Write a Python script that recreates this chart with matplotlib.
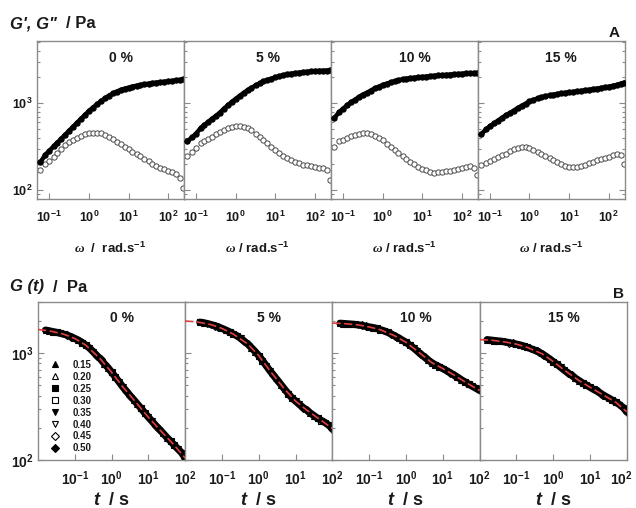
import matplotlib
matplotlib.use('Agg')
import matplotlib.pyplot as plt
import matplotlib.transforms as mtransforms
import numpy as np
from matplotlib.ticker import LogLocator, FixedLocator, NullFormatter, FuncFormatter

plt.rcParams['font.family'] = 'Liberation Sans'
plt.rcParams['font.weight'] = 'bold'
plt.rcParams['axes.labelweight'] = 'bold'
plt.rcParams['mathtext.fontset'] = 'custom'
plt.rcParams['mathtext.rm'] = 'Liberation Sans:bold'
plt.rcParams['mathtext.it'] = 'Liberation Serif:italic'
plt.rcParams['mathtext.bf'] = 'Liberation Sans:bold:italic'
plt.rcParams['mathtext.default'] = 'regular'

# ---- data ----
conc = ['0 %', '5 %', '10 %', '15 %']

# frequency sweep, rad/s
omega = [0.06, 0.08, 0.1, 0.13, 0.16, 0.2, 0.25, 0.32, 0.4, 0.5, 0.63, 0.8, 1.0, 1.26, 1.6,
         2.0, 2.5, 3.2, 4.0, 5.0, 6.3, 8.0, 10, 12.6, 16, 20, 25, 32, 40, 50, 63, 80, 100,
         126, 160, 200, 240]

gp_0 = [210, 256, 283, 320, 352, 390, 432, 484, 537, 595, 661, 735, 813, 891, 970, 1055,
        1135, 1220, 1295, 1360, 1420, 1470, 1510, 1555, 1590, 1620, 1650, 1680, 1705, 1725,
        1745, 1765, 1785, 1805, 1830, 1860, 1890]
gpp_0 = [170, 200, 217, 243, 267, 295, 327, 357, 382, 403, 423, 442, 452, 459, 457, 451,
         432, 410, 386, 361, 338, 316, 298, 275, 257, 244, 230, 215, 201, 190, 180, 173, 167,
         160, 153, 138, 105]

gp_5 = [363, 407, 447, 516, 560, 605, 660, 716, 780, 861, 944, 1035, 1122, 1216, 1318, 1413,
        1503, 1603, 1690, 1778, 1854, 1919, 1982, 2042, 2099, 2148, 2188, 2218, 2249, 2275,
        2301, 2323, 2344, 2355, 2366, 2377, 2388]
gpp_5 = [245, 275, 302, 347, 367, 389, 412, 442, 468, 495, 519, 535, 543, 543, 531, 513,
         490, 447, 412, 380, 347, 316, 288, 269, 245, 234, 221, 211, 204, 197, 193, 188, 184,
         180, 178, 170, 132]

gp_10 = [673, 789, 863, 955, 1028, 1096, 1175, 1259, 1318, 1396, 1479, 1549, 1622, 1679,
         1738, 1786, 1841, 1884, 1914, 1941, 1963, 1986, 2004, 2028, 2051, 2070, 2089, 2104,
         2118, 2138, 2153, 2168, 2183, 2198, 2208, 2218, 2228]
gpp_10 = [316, 363, 378, 403, 417, 431, 442, 449, 449, 437, 417, 398, 376, 343, 316, 288,
          266, 245, 226, 211, 200, 186, 177, 170, 162, 158, 160, 162, 164, 167, 171, 174,
          178, 184, 188, 182, 151]

gp_15 = [437, 501, 543, 589, 631, 676, 724, 773, 822, 877, 933, 989, 1047, 1091, 1135, 1169,
         1202, 1230, 1253, 1276, 1297, 1318, 1334, 1349, 1368, 1387, 1406, 1429, 1452, 1472,
         1496, 1524, 1549, 1585, 1622, 1679, 1722]
gpp_15 = [195, 204, 214, 229, 240, 251, 263, 279, 295, 307, 314, 313, 305, 292, 275, 260,
          245, 232, 221, 211, 200, 191, 184, 183, 185, 191, 196, 204, 212, 220, 228, 234,
          243, 251, 257, 251, 200]

storage = [gp_0, gp_5, gp_10, gp_15]
loss = [gpp_0, gpp_5, gpp_10, gpp_15]

# stress relaxation, s
t = [0.016, 0.02, 0.025, 0.032, 0.04, 0.05, 0.063, 0.08, 0.1, 0.126, 0.16, 0.2, 0.25, 0.32,
     0.4, 0.5, 0.63, 0.8, 1, 1.26, 1.6, 2, 2.5, 3.2, 4, 5, 6.3, 8, 10, 12.6, 16, 20, 25, 32,
     40, 50, 63, 80, 100]

gt_0 = [1637, 1614, 1585, 1560, 1531, 1500, 1466, 1419, 1368, 1318, 1253, 1183, 1114, 1023,
        944, 877, 798, 729, 661, 598, 537, 484, 442, 398, 366, 334, 304, 275, 251, 230, 209,
        193, 178, 162, 150, 138, 127, 117, 104]
gt_5 = [np.nan, np.nan, 1941, 1914, 1884, 1845, 1803, 1754, 1698, 1641, 1578, 1507, 1455,
        1371, 1288, 1216, 1122, 1030, 944, 851, 759, 684, 621, 558, 507, 460, 417, 380, 355,
        331, 309, 293, 275, 259, 245, 234, 224, 211, 197]
gt_10 = [1897, 1888, 1875, 1862, 1849, 1832, 1811, 1778, 1754, 1730, 1698, 1652, 1614, 1560,
         1503, 1445, 1387, 1318, 1259, 1189, 1117, 1047, 977, 916, 861, 813, 776, 745, 716,
         685, 653, 624, 596, 562, 537, 513, 490, 468, 447]
gt_15 = [1334, 1321, 1309, 1297, 1285, 1268, 1253, 1230, 1211, 1189, 1161, 1127, 1096, 1059,
         1023, 984, 933, 881, 832, 785, 735, 692, 653, 617, 582, 553, 525, 501, 479, 457, 437,
         417, 398, 380, 363, 347, 330, 309, 282]
relax = [gt_0, gt_5, gt_10, gt_15]

# fitted curves (red dashed)
t_fit = [0.01, 0.02, 0.05, 0.1, 0.2, 0.5, 1, 2, 5, 10, 20, 50, 100]
fit_0 = [1660, 1614, 1500, 1368, 1183, 877, 661, 484, 334, 251, 193, 138, 104]
fit_5 = [1990, 1960, 1845, 1698, 1507, 1216, 944, 684, 460, 355, 293, 234, 197]
fit_10 = [1905, 1888, 1832, 1754, 1652, 1445, 1259, 1047, 813, 716, 624, 513, 447]
fit_15 = [1335, 1321, 1268, 1211, 1127, 984, 832, 692, 553, 479, 417, 347, 282]
fits = [fit_0, fit_5, fit_10, fit_15]

strains = ['0.15', '0.20', '0.25', '0.30', '0.35', '0.40', '0.45', '0.50']
marks = [('^', 'k'), ('^', 'w'), ('s', 'k'), ('s', 'w'), ('v', 'k'), ('v', 'w'), ('D', 'w'), ('D', 'k')]

# ---- figure ----
fig = plt.figure(figsize=(6.36, 5.08), dpi=100)
W, H = 636.0, 508.0
spine_c = '#8a8a8a'
txt_c = '#1a1a1a'

def pow10(v, p):
    return '10$^{%d}$' % int(round(np.log10(v)))

def style(ax, size, first, last, pad):
    for s in ax.spines.values():
        s.set_color(spine_c)
        s.set_linewidth(1.0)
    ax.set_xscale('log')
    ax.set_yscale('log')
    ax.xaxis.set_major_locator(FixedLocator([0.1, 1, 10, 100]))
    ax.xaxis.set_minor_locator(LogLocator(base=10, subs=np.arange(2, 10)))
    ax.xaxis.set_major_formatter(FuncFormatter(pow10))
    ax.xaxis.set_minor_formatter(NullFormatter())
    ax.yaxis.set_major_locator(FixedLocator([100, 1000]))
    ax.yaxis.set_minor_locator(LogLocator(base=10, subs=np.arange(2, 10)))
    ax.yaxis.set_major_formatter(FuncFormatter(pow10))
    ax.yaxis.set_minor_formatter(NullFormatter())
    ax.tick_params(which='both', direction='in', color=spine_c, width=0.8,
                   labelsize=size, labelcolor=txt_c, top=False, right=last)
    ax.tick_params(which='major', length=4.5)
    ax.tick_params(which='minor', length=2.5)
    ax.tick_params(axis='x', pad=pad)
    ax.tick_params(axis='y', labelleft=first, pad=3)

# top row: G', G''
top_left = [37, 183.8, 330.7, 477.6]
xlab_top = ['$\\mathit{\\omega}$  /  rad.s$^{-1}$', '$\\mathit{\\omega}$ / rad.s$^{-1}$',
            '$\\mathit{\\omega}$ / rad.s$^{-1}$', '$\\mathit{\\omega}$ / rad.s$^{-1}$']
for i in range(4):
    ax = fig.add_axes([top_left[i] / W, 1 - 199 / H, 146.9 / W, 158 / H])
    ax.plot(omega, storage[i], ls='-', lw=3.2, color='k', marker='o', ms=3.6,
            mfc='k', mec='k', zorder=3)
    ax.plot(omega, loss[i], ls='none', marker='o', ms=3.8, mfc='white', mec='#4a4a4a',
            mew=0.7, zorder=2)
    ax.set_xlim(0.049, 250)
    ax.set_ylim(79, 5200)
    style(ax, 9, i == 0, i == 3, 7.5)
    ax.set_xlabel(xlab_top[i], fontsize=9.5, color=txt_c, labelpad=12)
    ax.text(0.57, 0.89, conc[i], transform=ax.transAxes, ha='center', va='center',
            fontsize=10, color=txt_c)

fig.text(10 / W, 1 - 24 / H, 'G\', G"', fontsize=12, style='italic', color=txt_c,
         va='center', ha='left')
fig.text(66 / W, 1 - 24 / H, '/ Pa', fontsize=12, color=txt_c, va='center', ha='left')
fig.text(614 / W, 1 - 33 / H, 'A', fontsize=11, color=txt_c, va='center', ha='center')

# bottom row: G(t)
bot_left = [38, 185.2, 332.4, 479.6]
for i in range(4):
    ax = fig.add_axes([bot_left[i] / W, 1 - 460 / H, 147.2 / W, 158 / H])
    g = relax[i]
    for k in range(8):
        m, fc = marks[k]
        ax.plot(t[k::8], g[k::8], ls='none', marker=m, ms=4.3 if m != 'D' else 3.6,
                mfc=fc, mec='k', mew=0.8, label=strains[k], zorder=2)
    ax.plot(t, g, ls='-', lw=5.2, color='k', solid_capstyle='round', zorder=3)
    ax.plot(t_fit, fits[i], ls=(0, (5, 2)), lw=1.2, color='#e0403f', zorder=4)
    ax.set_xlim(0.01, 100)
    ax.set_ylim(100, 3000)
    style(ax, 10, i == 0, False, 6.5)
    ax.set_xlabel('$\\mathbf{t}$  / s', fontsize=13, color=txt_c, labelpad=3)
    ax.text(0.57, 0.9, conc[i], transform=ax.transAxes, ha='center', va='center',
            fontsize=10, color=txt_c)
    if i == 0:
        ax.legend(loc='upper left', bbox_to_anchor=(0.05, 0.665), frameon=False,
                  fontsize=7, handlelength=1.0, handletextpad=1.3, labelspacing=0.2,
                  borderpad=0, labelcolor=txt_c)
    if i == 3:
        fig.canvas.draw()
        shift = mtransforms.ScaledTranslation(-4 / 72, 0, fig.dpi_scale_trans)
        lab = ax.get_xticklabels()[-1]
        lab.set_transform(lab.get_transform() + shift)

fig.text(10 / W, 1 - 287 / H, 'G (t)', fontsize=12, style='italic', color=txt_c,
         va='center', ha='left')
fig.text(53 / W, 1 - 287 / H, '/  Pa', fontsize=12, color=txt_c, va='center', ha='left')
fig.text(618 / W, 1 - 294 / H, 'B', fontsize=11, color=txt_c, va='center', ha='center')

fig.savefig('out.png', dpi=100)
